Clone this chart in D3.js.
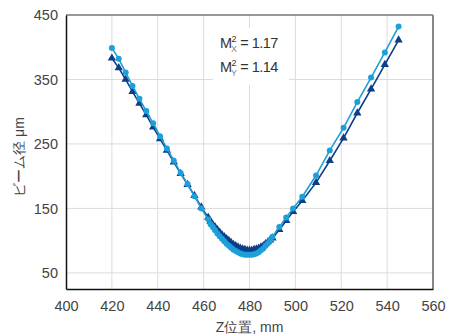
<!DOCTYPE html>
<html>
<head>
<meta charset="utf-8">
<script src="https://cdn.jsdelivr.net/npm/d3@7"></script>
<style>
	body { margin: 0; background: #fff; }
	text { font-family: "Liberation Sans", Arial, sans-serif; }
</style>
</head>
<body>
<div id="chart"></div>
<script>
// Z position (mm) and beam diameters (um)
var zX = [420, 423, 426, 429, 432, 435, 438, 441, 444, 447, 450, 453, 456, 459, 462,
	463, 464, 465, 466, 467, 468, 469, 470, 471, 472, 473, 474, 475, 476, 477, 478, 479,
	480, 481, 482, 483, 484, 485, 486, 487, 488, 489, 490,
	493, 496, 499, 503, 509, 515, 521, 527, 533, 539, 545];
var diaX = [399, 382, 361, 340, 320, 301, 282, 262, 243, 224, 205, 188, 169, 150, 133,
	126, 121, 116, 111, 107, 103, 99, 95, 92, 89, 86, 84, 82, 80, 79, 78, 78,
	78, 78, 79, 80, 82, 85, 88, 92, 96, 101, 106,
	121, 136, 150, 168, 201, 240, 275, 315, 353, 392, 432];
var diaY = [383, 368, 350, 331, 313, 295, 276, 258, 240, 222, 204, 187, 170, 152, 136,
	130, 125, 121, 117, 113, 109, 106, 103, 100, 97, 94, 92, 90, 88, 87, 86, 85,
	85, 85, 86, 87, 88, 90, 92, 95, 98, 101, 104,
	117, 131, 145, 162, 190, 224, 259, 298, 335, 373, 411];

var xTicks = [400, 420, 440, 460, 480, 500, 520, 540, 560];
var yTicks = [50, 150, 250, 350, 450];

function init() {
	var w = 450;
	var h = 335;
	var left = 66, right = 433, top = 15, bottom = 289;

	var svg = d3.select("#chart")
		.append("svg")
		.attr("width", w)
		.attr("height", h);

	var x = d3.scaleLinear().domain([400, 560]).range([left, right]);
	var y = d3.scaleLinear().domain([25, 450]).range([bottom, top]);

	// grid
	svg.append("g")
		.selectAll("line")
		.data(xTicks.slice(1, -1))
		.join("line")
			.attr("x1", d => x(d)).attr("x2", d => x(d))
			.attr("y1", top).attr("y2", bottom)
			.attr("stroke", "#dcdcdc").attr("stroke-width", 1);
	svg.append("g")
		.selectAll("line")
		.data(yTicks.slice(0, -1))
		.join("line")
			.attr("x1", left).attr("x2", right)
			.attr("y1", d => y(d)).attr("y2", d => y(d))
			.attr("stroke", "#dcdcdc").attr("stroke-width", 1);

	// annotation box
	svg.append("rect")
		.attr("x", 213).attr("y", 28)
		.attr("width", 76).attr("height", 57)
		.attr("fill", "#fff");

	var colX = "#1d9fd9", colY = "#0c3f87";
	var series = [
		{ vals: diaY, col: colY, sym: d3.symbolTriangle },
		{ vals: diaX, col: colX, sym: d3.symbolCircle }
	];
	var line = d3.line().x(d => x(d[0])).y(d => y(d[1]));

	series.forEach(function(s) {
		var pts = zX.map((z, i) => [z, s.vals[i]]);
		svg.append("path")
			.datum(pts)
			.attr("d", line)
			.attr("fill", "none")
			.attr("stroke", s.col)
			.attr("stroke-width", 1.6);
		svg.append("g")
			.selectAll("path")
			.data(pts)
			.join("path")
				.attr("transform", d => `translate(${x(d[0])},${y(d[1])})`)
				.attr("d", d3.symbol().type(s.sym).size(s.sym === d3.symbolCircle ? 28 : 30))
				.attr("fill", s.col);
	});

	// frame
	svg.append("line").attr("x1", left).attr("x2", right).attr("y1", top).attr("y2", top)
		.attr("stroke", "#333").attr("stroke-width", 1);
	svg.append("line").attr("x1", right).attr("x2", right).attr("y1", top).attr("y2", bottom)
		.attr("stroke", "#888").attr("stroke-width", 2);

	svg.append("g")
		.attr("transform", `translate(0,${bottom})`)
		.call(d3.axisBottom(x).tickValues(xTicks).tickSize(0).tickPadding(12).tickSizeOuter(0))
		.call(g => g.select(".domain").attr("stroke", "#111").attr("stroke-width", 1.5))
		.call(g => g.selectAll("text").attr("font-size", 14.5).attr("fill", "#444"));

	svg.append("g")
		.attr("transform", `translate(${left},0)`)
		.call(d3.axisLeft(y).tickValues(yTicks).tickSize(0).tickPadding(8).tickSizeOuter(0))
		.call(g => g.select(".domain").attr("stroke", "#111").attr("stroke-width", 1.5))
		.call(g => g.selectAll("text").attr("font-size", 14.5).attr("fill", "#444"));

	// axis titles
	svg.append("text")
		.attr("x", (left + right) / 2).attr("y", 332)
		.attr("text-anchor", "middle")
		.attr("font-size", 14).attr("fill", "#444")
		.text("Z位置, mm");
	svg.append("text")
		.attr("transform", "translate(24,157) rotate(-90)")
		.attr("text-anchor", "middle")
		.attr("font-size", 14).attr("fill", "#444")
		.text("ビーム径 μm");

	// M² annotation
	var ann = [["X", "1.17", 48], ["Y", "1.14", 72]];
	ann.forEach(function(a) {
		var t = svg.append("text")
			.attr("x", 220).attr("y", a[2])
			.attr("font-size", 14.5).attr("fill", "#333")
			.attr("letter-spacing", -0.5);
		t.append("tspan").text("M");
		t.append("tspan").attr("font-size", 9).attr("dy", -6).text("2");
		t.append("tspan").attr("font-size", 9).attr("dx", -5).attr("dy", 10).attr("fill", "#888").text(a[0]);
		t.append("tspan").attr("dy", -4).text(" = " + a[1]);
	});
}

window.onload = init;
</script>
</body>
</html>
